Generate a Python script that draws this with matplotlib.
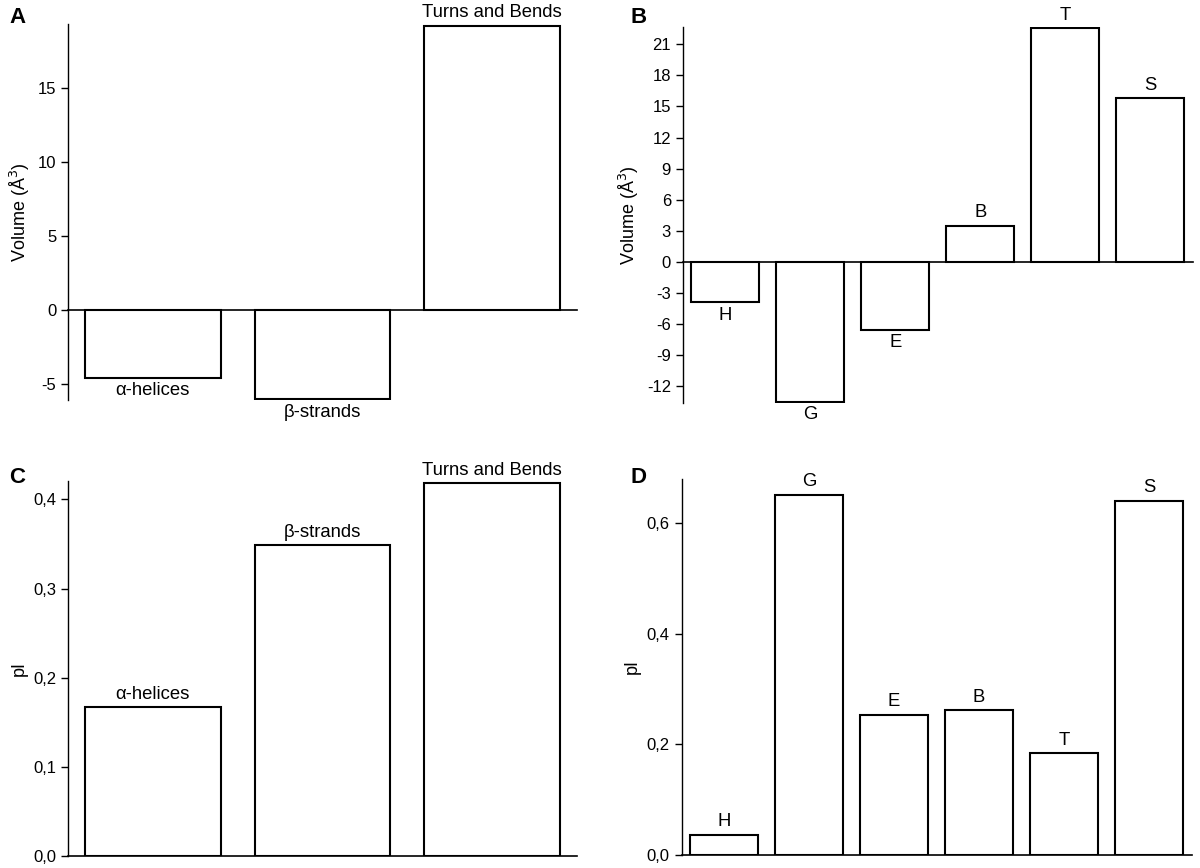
import matplotlib
matplotlib.use("Agg")
import matplotlib.pyplot as plt
from matplotlib.ticker import FuncFormatter

plt.rcParams["font.family"] = ["Liberation Sans", "DejaVu Sans"]
plt.rcParams["axes.unicode_minus"] = False

# Panel A / C categories
groups3 = ["α-helices", "β-strands", "Turns and Bends"]
vol3 = [-4.58, -6.02, 19.24]
pi3 = [0.167, 0.3485, 0.418]

# Panel B / D categories
groups6 = ["H", "G", "E", "B", "T", "S"]
vol6 = [-3.88, -13.47, -6.54, 3.50, 22.55, 15.78]
pi6 = [0.0363, 0.651, 0.253, 0.261, 0.1837, 0.640]

comma = FuncFormatter(lambda v, p: f"{v:.1f}".replace(".", ","))


def bar_panel(ax, labels, values, ylim, yticks, ylabel, fmt=None, lab_fs=13.3):
    x = list(range(len(labels)))
    ax.bar(x, values, width=0.8, color="white", edgecolor="black", linewidth=1.5)
    ax.set_xlim(-0.5, len(labels) - 0.5)
    ax.set_ylim(*ylim)
    ax.set_yticks(yticks)
    if fmt is not None:
        ax.yaxis.set_major_formatter(fmt)
    ax.set_xticks([])
    for s in ("top", "right"):
        ax.spines[s].set_visible(False)
    ax.spines["bottom"].set_position(("data", 0))
    ax.spines["left"].set_linewidth(1.0)
    ax.spines["bottom"].set_linewidth(1.2)
    ax.tick_params(axis="y", direction="out", length=5, width=1.0, labelsize=12)
    ax.set_ylabel(ylabel, fontsize=13)
    span = ylim[1] - ylim[0]
    for xi, v, lab in zip(x, values, labels):
        if v >= 0:
            ax.text(xi, v + span * 0.012, lab, ha="center", va="bottom", fontsize=lab_fs)
        else:
            ax.text(xi, v - span * 0.012, lab, ha="center", va="top", fontsize=lab_fs)


fig = plt.figure(figsize=(12, 8.68), dpi=100)

axA = fig.add_axes([0.0567, 0.539, 0.424, 0.433])
bar_panel(axA, groups3, vol3, (-6.09, 19.33), [-5, 0, 5, 10, 15], "Volume (Å$^3$)")

axB = fig.add_axes([0.569, 0.536, 0.425, 0.433])
bar_panel(axB, groups6, vol6, (-13.57, 22.67), list(range(-12, 22, 3)), "Volume (Å$^3$)")

axC = fig.add_axes([0.0567, 0.0138, 0.424, 0.432])
bar_panel(axC, groups3, pi3, (0, 0.4205), [0, 0.1, 0.2, 0.3, 0.4], "pI", fmt=comma)

axD = fig.add_axes([0.568, 0.0153, 0.425, 0.433])
bar_panel(axD, groups6, pi6, (0, 0.68), [0, 0.2, 0.4, 0.6], "pI", fmt=comma)

for letter, (fx, fy) in zip("ABCD", [(0.008, 0.992), (0.525, 0.992), (0.008, 0.462), (0.525, 0.462)]):
    fig.text(fx, fy, letter, fontsize=16, fontweight="bold", ha="left", va="top")

fig.savefig("out.png", dpi=100)
